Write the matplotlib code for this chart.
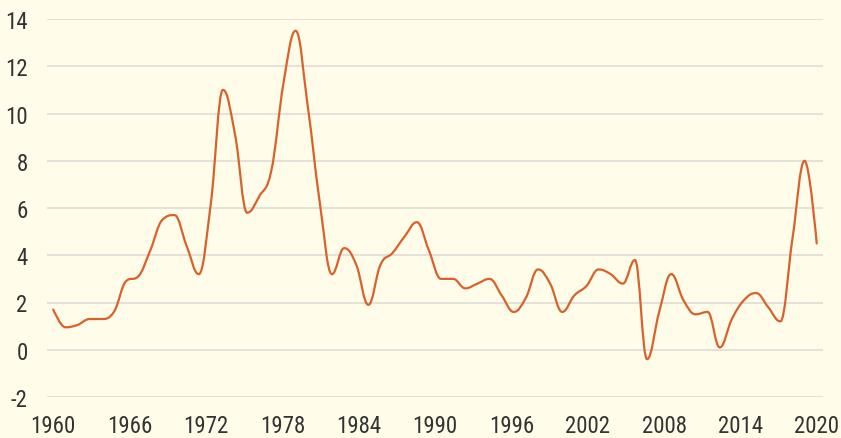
import numpy as np
import matplotlib
matplotlib.use("Agg")
import matplotlib.pyplot as plt
from matplotlib.path import Path
from matplotlib.patches import PathPatch
from matplotlib import font_manager

years = list(range(1960, 2024))
values = [1.7, 0.95, 1.05, 1.3, 1.3, 1.6, 2.9, 3.1, 4.2, 5.5,
          5.7, 4.4, 3.2, 6.2, 11.0, 9.1, 5.8, 6.5, 7.6, 11.3,
          13.5, 10.3, 6.2, 3.2, 4.3, 3.6, 1.9, 3.6, 4.1, 4.8,
          5.4, 4.2, 3.0, 3.0, 2.6, 2.8, 3.0, 2.3, 1.6, 2.2,
          3.4, 2.8, 1.6, 2.3, 2.7, 3.4, 3.2, 2.8, 3.8, -0.4,
          1.6, 3.2, 2.1, 1.5, 1.6, 0.1, 1.3, 2.1, 2.4, 1.8,
          1.2, 4.7, 8.0, 4.5]
x_tick_labels = ["1960", "1966", "1972", "1978", "1984", "1990",
                 "1996", "2002", "2008", "2014", "2020"]
y_ticks = [-2, 0, 2, 4, 6, 8, 10, 12, 14]

BG = "#fffcea"
LINE = "#d9622b"
GRID = "#dddbd3"
TXT = "#333333"

names = {f.name for f in font_manager.fontManager.ttflist}
fam = [f for f in ["Liberation Sans Narrow", "Roboto Condensed", "DejaVu Sans Condensed"] if f in names]
plt.rcParams["font.family"] = fam + ["DejaVu Sans"]


def spline_path(xs, ys, smoothing=1.5):
    """Highcharts-style spline through points, as cubic bezier path."""
    n = len(xs)
    left = [None] * n
    right = [None] * n
    denom = smoothing + 1
    for i in range(n):
        px, py = xs[i], ys[i]
        if 0 < i < n - 1:
            lx, ly = xs[i - 1], ys[i - 1]
            nx, ny = xs[i + 1], ys[i + 1]
            lcx = (smoothing * px + lx) / denom
            lcy = (smoothing * py + ly) / denom
            rcx = (smoothing * px + nx) / denom
            rcy = (smoothing * py + ny) / denom
            corr = ((rcy - lcy) * (rcx - px)) / (rcx - lcx) + py - rcy
            lcy += corr
            rcy += corr
            if lcy > ly and lcy > py:
                lcy = max(ly, py)
                rcy = 2 * py - lcy
            elif lcy < ly and lcy < py:
                lcy = min(ly, py)
                rcy = 2 * py - lcy
            if rcy > ny and rcy > py:
                rcy = max(ny, py)
                lcy = 2 * py - rcy
            elif rcy < ny and rcy < py:
                rcy = min(ny, py)
                lcy = 2 * py - rcy
            left[i] = (lcx, lcy)
            right[i] = (rcx, rcy)
        else:
            left[i] = (px, py)
            right[i] = (px, py)
    verts = [(xs[0], ys[0])]
    codes = [Path.MOVETO]
    for i in range(1, n):
        verts += [right[i - 1], left[i], (xs[i], ys[i])]
        codes += [Path.CURVE4] * 3
    return Path(verts, codes)


fig = plt.figure(figsize=(8.41, 4.39), dpi=100, facecolor=BG)
ax = fig.add_axes([47 / 841, 41 / 439, 776 / 841, 378 / 439])
ax.set_facecolor(BG)

x = np.array(years, dtype=float)
y = np.array(values, dtype=float)
path = spline_path(x, y)
ax.add_patch(PathPatch(path, facecolor="none", edgecolor=LINE, lw=1.6,
                       capstyle="round", joinstyle="round", zorder=3))

pad = (x[-1] - x[0]) * 6.3 / 763.0
ax.set_xlim(x[0] - pad, x[-1] + pad)
ax.set_ylim(-2, 14)
ax.set_yticks(y_ticks)
ax.set_yticklabels([str(t) for t in y_ticks])
ax.set_xticks(np.linspace(x[0], x[-1], len(x_tick_labels)))
ax.set_xticklabels(x_tick_labels)

ax.grid(axis="y", color=GRID, lw=1.1, zorder=0)
ax.set_axisbelow(True)
for s in ax.spines.values():
    s.set_visible(False)
ax.tick_params(axis="both", length=0, labelsize=16.5, colors=TXT)
ax.tick_params(axis="y", pad=14)
ax.tick_params(axis="x", pad=12)

fig.savefig("out.png", dpi=100, facecolor=BG)
